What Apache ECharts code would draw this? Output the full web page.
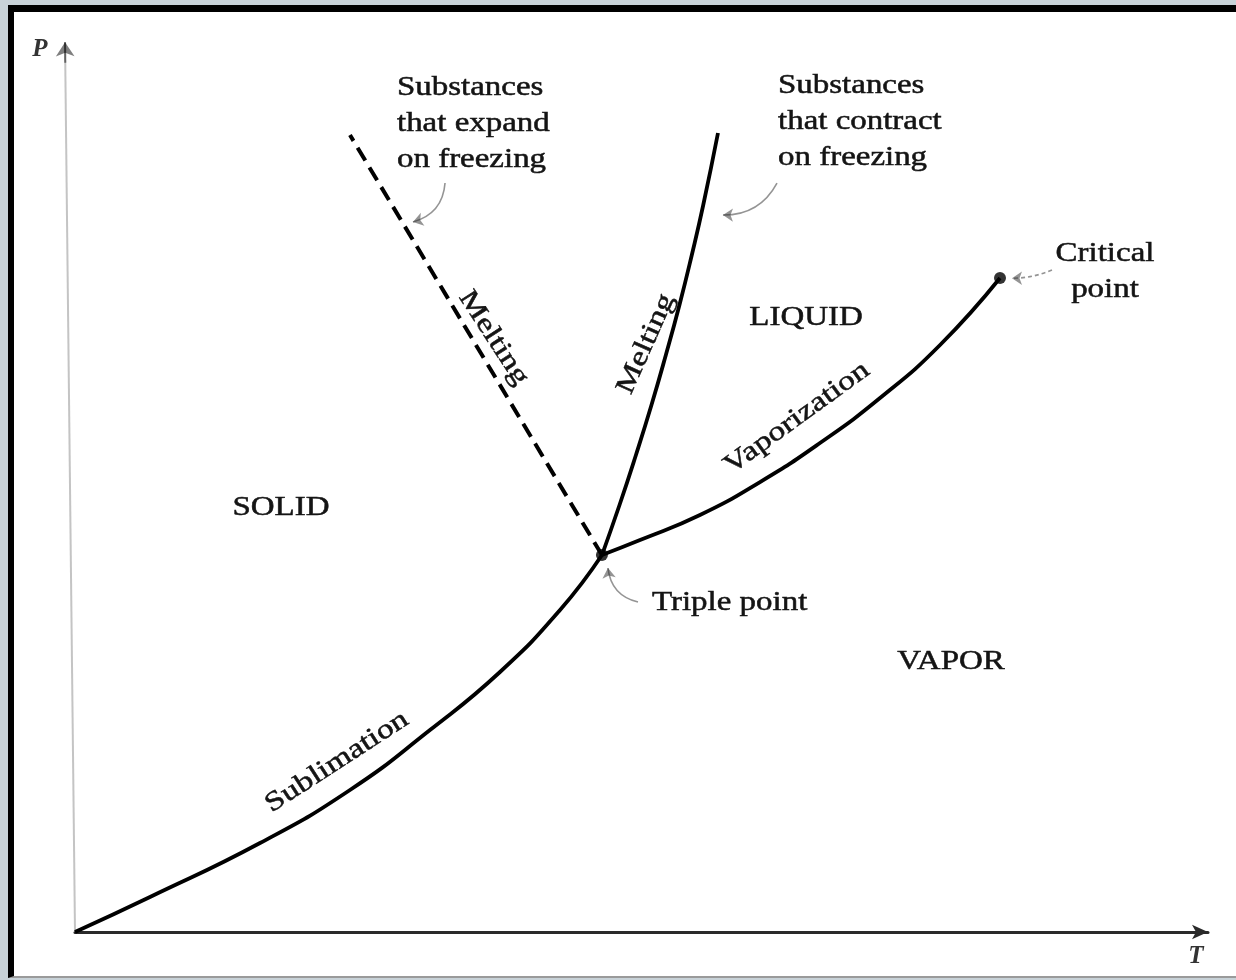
<!DOCTYPE html>
<html>
<head>
<meta charset="utf-8">
<title>Phase diagram</title>
<script src="https://cdn.jsdelivr.net/npm/echarts@6/dist/echarts.min.js"></script>
<style>
  html, body { margin: 0; padding: 0; width: 1236px; height: 980px; background: #c8d2d8; overflow: hidden; }
  #frame { position: absolute; left: 8px; top: 5px; width: 1222px; height: 964px;
           border-left: 6px solid #000; border-top: 7px solid #000; border-bottom: 2px solid #9a9a9a;
           background: #fff; }
  #chart { position: absolute; left: 0; top: 0; width: 1236px; height: 980px; }
</style>
</head>
<body>
<div id="frame"></div>
<div id="chart"></div>
<script>
// Phase boundaries, in relative temperature T (0-100) and pressure P (0-100)
const sublimationT = [0, 6.62, 16.33, 24.27, 31.33, 37.51, 42.81, 46.51];
const sublimationP = [0, 3.95, 10.03, 16.01, 22.77, 29.31, 36.30, 42.50];

const vaporizationT = [46.51, 49.87, 55.16, 60.46, 65.75, 71.05, 76.35, 81.64];
const vaporizationP = [42.50, 44.19, 47.01, 50.73, 55.13, 60.20, 66.18, 73.73];

// melting curve for substances that contract on freezing
const meltingT = [46.51, 48.06, 49.51, 50.88, 52.15, 53.35, 54.44, 55.45, 56.75];
const meltingP = [42.50, 48.14, 53.78, 59.41, 65.05, 70.69, 76.33, 81.96, 90.08];

// melting curve for substances that expand on freezing (straight)
const meltingExpandT = [46.51, 24.27];
const meltingExpandP = [42.50, 89.85];

const triplePoint = [46.51, 42.50];
const criticalPoint = [81.64, 73.73];

// pointer arrows: [from, to]
const pointers = [
  { from: [32.66, 84.44], to: [29.83, 80.05], curve: 0.35, dashed: false },
  { from: [61.96, 84.44], to: [57.19, 80.83], curve: 0.3, dashed: false },
  { from: [86.23, 74.63], to: [82.70, 73.70], curve: 0.1, dashed: true },
  { from: [49.69, 37.20], to: [47.04, 41.04], curve: 0.35, dashed: false }
];

// P axis drawn slightly leaning; its tip is drawn darker
const pAxis = [[0, 0], [-0.88, 100.3]];
const pAxisTip = [[-0.86, 98.0], [-0.88, 100.3]];

// text placed in data space
const notes = [
  { text: 'SOLID', at: [18.18, 47.80], align: 'center', rot: 0 },
  { text: 'LIQUID', at: [64.52, 69.22], align: 'center', rot: 0 },
  { text: 'VAPOR', at: [77.32, 30.44], align: 'center', rot: 0 },
  { text: 'Triple point', at: [50.93, 37.09], align: 'left', rot: 0 },
  { text: 'Critical\npoint', at: [90.91, 74.40], align: 'center', rot: 0 },
  { text: 'Substances\nthat expand\non freezing', at: [28.42, 91.15], align: 'left', rot: 0 },
  { text: 'Substances\nthat contract\non freezing', at: [62.05, 91.32], align: 'left', rot: 0 },
  { text: 'Sublimation', at: [23.12, 19.17], align: 'center', rot: 33 },
  { text: 'Vaporization', at: [63.72, 57.95], align: 'center', rot: 36 },
  { text: 'Melting', at: [50.40, 66.30], align: 'center', rot: 66 },
  { text: 'Melting', at: [36.95, 66.97], align: 'center', rot: -57 }
];
const axisNames = [
  { text: 'P', at: [-3.09, 99.44] },
  { text: 'T', at: [98.94, -2.82] }
];

const zip = (xs, ys) => xs.map((x, i) => [x, ys[i]]);
const curveStyle = { color: '#000', width: 3.8 };

const chart = echarts.init(document.getElementById('chart'), null, { renderer: 'canvas' });

chart.setOption({
  backgroundColor: 'transparent',
  animation: false,
  grid: { left: 75, right: 28, top: 45, bottom: 48 },
  xAxis: {
    type: 'value', min: 0, max: 100,
    axisLine: { show: true, lineStyle: { color: '#2a2a2a', width: 3 }, symbol: ['none', 'arrow'], symbolSize: [11, 16] },
    axisTick: { show: false }, axisLabel: { show: false }, splitLine: { show: false }
  },
  yAxis: {
    type: 'value', min: 0, max: 100,
    axisLine: { show: false }, axisTick: { show: false }, axisLabel: { show: false }, splitLine: { show: false }
  },
  series: [
    { type: 'line', name: 'Sublimation', data: zip(sublimationT, sublimationP), smooth: 0.5,
      showSymbol: false, lineStyle: curveStyle, clip: false, z: 3 },
    { type: 'line', name: 'Vaporization', data: zip(vaporizationT, vaporizationP), smooth: 0.5,
      showSymbol: false, lineStyle: curveStyle, clip: false, z: 3 },
    { type: 'line', name: 'Melting', data: zip(meltingT, meltingP), smooth: 0.5,
      showSymbol: false, lineStyle: curveStyle, clip: false, z: 3 },
    { type: 'line', name: 'Melting (expand)', data: zip(meltingExpandT, meltingExpandP),
      showSymbol: false, lineStyle: { color: '#000', width: 4, type: [15, 8] }, clip: false, z: 3 },
    { type: 'scatter', name: 'Points', data: [triplePoint, criticalPoint], symbolSize: 12,
      itemStyle: { color: '#000' }, clip: false, z: 4 },
    { type: 'lines', coordinateSystem: 'cartesian2d', clip: false, z: 2,
      symbol: ['none', 'none'],
      lineStyle: { color: '#8a8a8a', width: 2, curveness: 0 },
      data: [{ coords: pAxis }] },
    { type: 'lines', coordinateSystem: 'cartesian2d', clip: false, z: 2,
      symbol: ['none', 'arrow'], symbolSize: [10, 14],
      lineStyle: { color: '#000', width: 2, curveness: 0 },
      data: [{ coords: pAxisTip }] },
    { type: 'lines', coordinateSystem: 'cartesian2d', clip: false, z: 2,
      symbol: ['none', 'arrow'], symbolSize: 10,
      data: pointers.map(p => ({
        coords: [p.from, p.to],
        lineStyle: { color: '#2a2a2a', width: 1.6, curveness: p.curve, type: p.dashed ? [4, 3] : 'solid' }
      }))
    }
  ]
});

// place text annotations at their data positions
const FONT = 'Liberation Serif, Times New Roman, serif';
const toPx = d => chart.convertToPixel({ gridIndex: 0 }, d);
const graphics = notes.map(n => {
  const p = toPx(n.at);
  return {
    type: 'text', x: p[0], y: p[1], rotation: n.rot * Math.PI / 180,
    scaleX: n.rot ? 1.25 : 1.22, scaleY: 1, z: 10,
    style: {
      text: n.text, x: 0, y: 0, fill: '#141414', stroke: '#141414', lineWidth: 0.5,
      font: '27px ' + FONT, align: n.align, verticalAlign: 'middle', lineHeight: 36
    }
  };
}).concat(axisNames.map(a => {
  const p = toPx(a.at);
  return {
    type: 'text', x: p[0], y: p[1], z: 10,
    style: { text: a.text, fill: '#333', font: 'italic bold 25px ' + FONT, align: 'center', verticalAlign: 'middle' }
  };
}));
chart.setOption({ graphic: graphics });
</script>
</body>
</html>
